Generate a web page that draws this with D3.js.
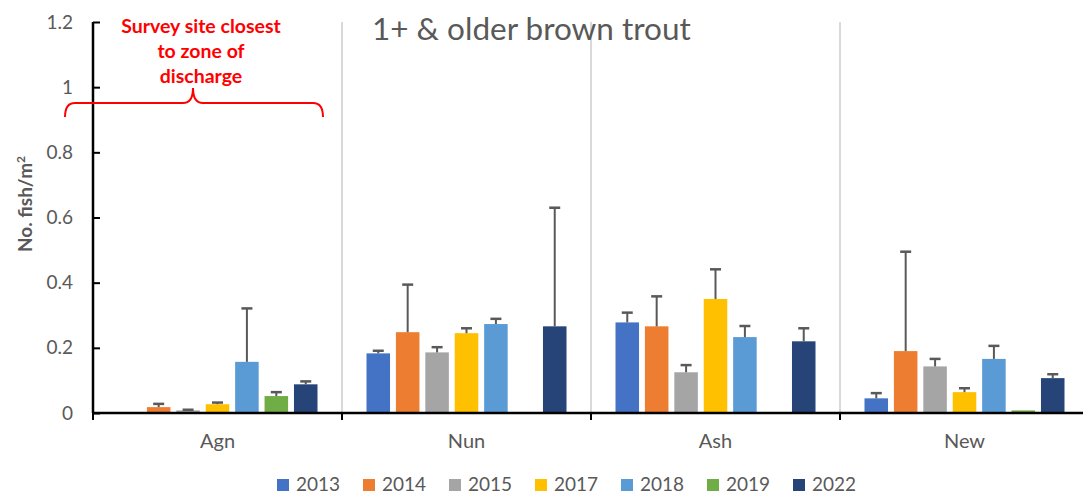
<!DOCTYPE html>
<html>
<head>
<meta charset="utf-8">
<script src="https://cdn.jsdelivr.net/npm/d3@7"></script>
<style>
body{margin:0;background:#fff;}
svg{display:block;font-family:Lato,"Open Sans",sans-serif;}
</style>
</head>
<body>
<svg id="chart" width="1083" height="496"></svg>
<script>
// sites, years and readings
var sites = ["Agn", "Nun", "Ash", "New"];
var years = ["2013", "2014", "2015", "2017", "2018", "2019", "2022"];
var colors = ["#4472C4", "#ED7D31", "#A5A5A5", "#FFC000", "#5B9BD5", "#70AD47", "#264478"];
// mean per site, one row per year (null = not surveyed)
var v2013 = [null, 0.183, 0.278, 0.045];
var v2014 = [0.018, 0.248, 0.266, 0.190];
var v2015 = [0.008, 0.186, 0.125, 0.143];
var v2017 = [0.027, 0.245, 0.350, 0.064];
var v2018 = [0.157, 0.273, 0.233, 0.166];
var v2019 = [0.052, null, null, 0.008];
var v2022 = [0.088, 0.266, 0.220, 0.107];
// upper error (added to mean)
var e2013 = [null, 0.008, 0.030, 0.016];
var e2014 = [0.010, 0.146, 0.092, 0.305];
var e2015 = [0.002, 0.016, 0.022, 0.023];
var e2017 = [0.005, 0.015, 0.091, 0.012];
var e2018 = [0.164, 0.016, 0.034, 0.040];
var e2019 = [0.012, null, null, 0];
var e2022 = [0.009, 0.364, 0.040, 0.012];
var yTicks = [0, 0.2, 0.4, 0.6, 0.8, 1, 1.2];

var vals = [v2013, v2014, v2015, v2017, v2018, v2019, v2022];
var errs = [e2013, e2014, e2015, e2017, e2018, e2019, e2022];
var dataset = [];
for (var i = 0; i < years.length; i++) {
	for (var j = 0; j < sites.length; j++) {
		if (vals[i][j] == null) continue;
		dataset.push({site: sites[j], year: years[i], v: vals[i][j], e: errs[i][j], c: colors[i]});
	}
}

var svg = d3.select("#chart");
var pl = 93, pr = 1089, pt = 22, pb = 413;
var grey = "#595959";

var x0 = d3.scaleBand().domain(sites).range([pl, pr]);
var x1 = d3.scaleBand().domain(years).range([24.5, x0.bandwidth() - 24.5]).paddingInner(0.2);
var y = d3.scaleLinear().domain([0, 1.2]).range([pb, pt]);

// vertical separators
svg.selectAll("line.sep").data(sites.slice(1)).enter().append("line")
	.attr("x1", function(d){ return x0(d); }).attr("x2", function(d){ return x0(d); })
	.attr("y1", pt).attr("y2", pb)
	.attr("stroke", "#d9d9d9").attr("stroke-width", 2);

// bars
svg.selectAll("rect.bar").data(dataset).enter().append("rect")
	.attr("x", function(d){ return x0(d.site) + x1(d.year); })
	.attr("y", function(d){ return y(d.v); })
	.attr("width", x1.bandwidth())
	.attr("height", function(d){ return y(0) - y(d.v); })
	.attr("fill", function(d){ return d.c; });

// error bars
var eb = svg.selectAll("g.err").data(dataset.filter(function(d){ return d.e > 0; })).enter().append("g");
eb.append("line")
	.attr("x1", function(d){ return x0(d.site) + x1(d.year) + x1.bandwidth()/2; })
	.attr("x2", function(d){ return x0(d.site) + x1(d.year) + x1.bandwidth()/2; })
	.attr("y1", function(d){ return y(d.v); })
	.attr("y2", function(d){ return y(d.v + d.e); })
	.attr("stroke", grey).attr("stroke-width", 2);
eb.append("line")
	.attr("x1", function(d){ return x0(d.site) + x1(d.year) + x1.bandwidth()/2 - 5.5; })
	.attr("x2", function(d){ return x0(d.site) + x1(d.year) + x1.bandwidth()/2 + 5.5; })
	.attr("y1", function(d){ return y(d.v + d.e); })
	.attr("y2", function(d){ return y(d.v + d.e); })
	.attr("stroke", grey).attr("stroke-width", 2.5);

// y axis
var yAxis = svg.append("g").attr("transform", "translate(" + pl + ",0)")
	.call(d3.axisRight(y).tickValues(yTicks).tickSize(7).tickFormat(function(d){ return d; }));
yAxis.select(".domain").attr("stroke", "#000").attr("stroke-width", 2.5).attr("d", "M0," + pt + "V" + pb);
yAxis.selectAll(".tick line").attr("stroke", "#000").attr("stroke-width", 2);
yAxis.selectAll(".tick text").attr("x", -20).attr("text-anchor", "end")
	.attr("fill", grey).style("font-size", "19px").style("font-family", "Lato");

// x axis
svg.append("line").attr("x1", pl).attr("x2", 1083).attr("y1", pb).attr("y2", pb)
	.attr("stroke", "#000").attr("stroke-width", 2.5);
svg.selectAll("line.xt").data(sites).enter().append("line")
	.attr("x1", function(d){ return x0(d); }).attr("x2", function(d){ return x0(d); })
	.attr("y1", pb).attr("y2", pb + 7)
	.attr("stroke", "#000").attr("stroke-width", 2);
svg.selectAll("text.cat").data(sites).enter().append("text")
	.attr("x", function(d){ return x0(d) + x0.bandwidth()/2; })
	.attr("y", 448).attr("text-anchor", "middle")
	.attr("fill", grey).style("font-size", "20px")
	.text(function(d){ return d; });

// y title
svg.append("text").attr("transform", "translate(32,204) rotate(-90)")
	.attr("text-anchor", "middle").attr("fill", grey)
	.style("font-size", "19px").style("font-weight", "bold")
	.text("No. fish/m").append("tspan").attr("dy", -7).style("font-size", "12px").text("2");

// title
svg.append("text").attr("x", 372).attr("y", 40).attr("fill", grey)
	.style("font-size", "31.5px").text("1+ & older brown trout");

// annotation
var ann = ["Survey site closest", "to zone of", "discharge"];
svg.selectAll("text.ann").data(ann).enter().append("text")
	.attr("x", 201).attr("y", function(d, i){ return 33 + i * 25; })
	.attr("text-anchor", "middle").attr("fill", "#ff0000")
	.style("font-size", "19.5px").style("font-weight", "bold")
	.text(function(d){ return d; });
svg.append("path")
	.attr("d", "M65,117 Q65,103 75,103 L183,103 Q193,103 193,88 Q193,103 203,103 L313,103 Q323,103 323,117")
	.attr("fill", "none").attr("stroke", "#ff0000").attr("stroke-width", 2);

// legend
var lg = svg.selectAll("g.lg").data(years).enter().append("g")
	.attr("transform", function(d, i){ return "translate(" + (277 + i * 86) + ",479)"; });
lg.append("rect").attr("width", 12).attr("height", 12)
	.attr("fill", function(d, i){ return colors[i]; });
lg.append("text").attr("x", 19).attr("y", 12).attr("fill", grey)
	.style("font-size", "19px").text(function(d){ return d; });
</script>
</body>
</html>
